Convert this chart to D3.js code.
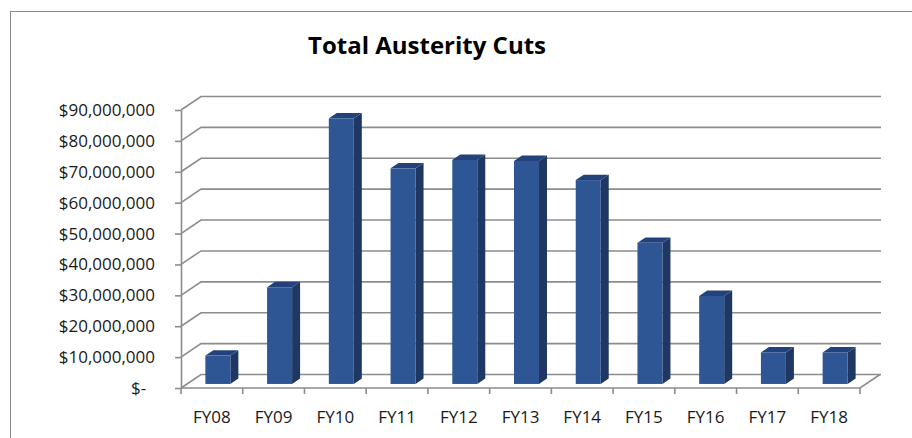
<!DOCTYPE html>
<html>
<head>
<meta charset="utf-8">
<script src="https://cdn.jsdelivr.net/npm/d3@7"></script>
<style>
  html, body { margin: 0; padding: 0; background: #fff; }
  svg { display: block; }
</style>
</head>
<body>
<svg id="chart" width="912" height="438"></svg>
<script>
const title = "Total Austerity Cuts";
const categories = ["FY08","FY09","FY10","FY11","FY12","FY13","FY14","FY15","FY16","FY17","FY18"];
const values = [9200000, 31300000, 86000000, 69800000, 72500000, 72200000, 66000000, 45700000, 28500000, 10200000, 10200000];
const yTicks = [0, 10000000, 20000000, 30000000, 40000000, 50000000, 60000000, 70000000, 80000000, 90000000];

(function () {
const svg = d3.select("#chart");
const pLeft = 181, pRight = 860, pTop = 110, pBottom = 388;
const DX = 20, DY = -13.5;          // depth of the 3D box
const fFront = 0.3, fBack = 0.7;    // bar position in depth
const gridColor = "#8c8c8c";

const x = d3.scaleBand().domain(categories).range([pLeft, pRight]).paddingInner(0).paddingOuter(0);
const y = d3.scaleLinear().domain([0, 90000000]).range([pBottom, pTop]);

// outer chart border
svg.append("rect").attr("x", 10.5).attr("y", 11.5).attr("width", 1000).attr("height", 1000)
  .attr("fill", "none").attr("stroke", "#8a8a8a").attr("stroke-width", 1);

// title
svg.append("text").attr("x", 427).attr("y", 54).attr("text-anchor", "middle")
  .attr("font-family", "'Open Sans', sans-serif").attr("font-weight", "bold")
  .attr("font-size", 24).attr("fill", "#000").text(title);

// gridlines: diagonal on side wall + horizontal on back wall
const grid = svg.append("g");
yTicks.forEach(t => {
  const yy = y(t);
  grid.append("path")
    .attr("d", `M${pLeft},${yy}L${pLeft + DX},${yy + DY}L${pRight + DX + 1},${yy + DY}`)
    .attr("fill", "none").attr("stroke", gridColor).attr("stroke-width", 1.6);
});

// floor
svg.append("path")
  .attr("d", `M${pLeft},${pBottom}L${pRight},${pBottom}L${pRight + DX},${pBottom + DY}`)
  .attr("fill", "none").attr("stroke", gridColor).attr("stroke-width", 1.6);

// y axis
const yAxis = d3.axisLeft(y).tickValues(yTicks).tickSize(6).tickSizeOuter(0).tickPadding(20)
  .tickFormat(d => d === 0 ? "$-\u00A0\u00A0" : "$" + d3.format(",")(d));
const ya = svg.append("g").attr("transform", `translate(${pLeft},0)`).call(yAxis);
ya.select(".domain").attr("stroke", gridColor).attr("stroke-width", 1.6);
ya.selectAll(".tick line").attr("stroke", gridColor).attr("stroke-width", 1.6);
ya.selectAll(".tick text").attr("font-family", "'Open Sans', sans-serif").attr("font-size", 17).attr("fill", "#1a1a1a");

// x axis
const xAxis = d3.axisBottom(x).tickSize(0).tickSizeOuter(0).tickPadding(23);
const xa = svg.append("g").attr("transform", `translate(0,${pBottom})`).call(xAxis);
xa.select(".domain").remove();
xa.selectAll(".tick text").attr("font-family", "'Open Sans', sans-serif").attr("font-size", 17).attr("fill", "#1a1a1a");
// category boundary ticks
const bounds = categories.map(c => x(c)).concat([pRight]);
xa.selectAll(".btick").data(bounds).enter().append("line")
  .attr("x1", d => d).attr("x2", d => d).attr("y1", 0).attr("y2", 6)
  .attr("stroke", gridColor).attr("stroke-width", 1.6);

// bars
const bw = x.bandwidth() * 0.405;
const bd = { dx: DX * (fBack - fFront), dy: DY * (fBack - fFront) };
const bars = svg.append("g");
categories.forEach((c, i) => {
  const x0 = x(c) + (x.bandwidth() - bw) / 2 + DX * fFront;
  const x1 = x0 + bw;
  const yb = y(0) + DY * fFront;
  const yt = y(values[i]) + DY * fFront;
  const g = bars.append("g");
  g.append("path").attr("d", `M${x1},${yb}L${x1 + bd.dx},${yb + bd.dy}L${x1 + bd.dx},${yt + bd.dy}L${x1},${yt}Z`)
    .attr("fill", "#1f3763");
  g.append("path").attr("d", `M${x0},${yt}L${x0 + bd.dx},${yt + bd.dy}L${x1 + bd.dx},${yt + bd.dy}L${x1},${yt}Z`)
    .attr("fill", "#23427c");
  g.append("rect").attr("x", x0).attr("y", yt).attr("width", bw).attr("height", yb - yt)
    .attr("fill", "#2e5594");
});
})();
</script>
</body>
</html>
